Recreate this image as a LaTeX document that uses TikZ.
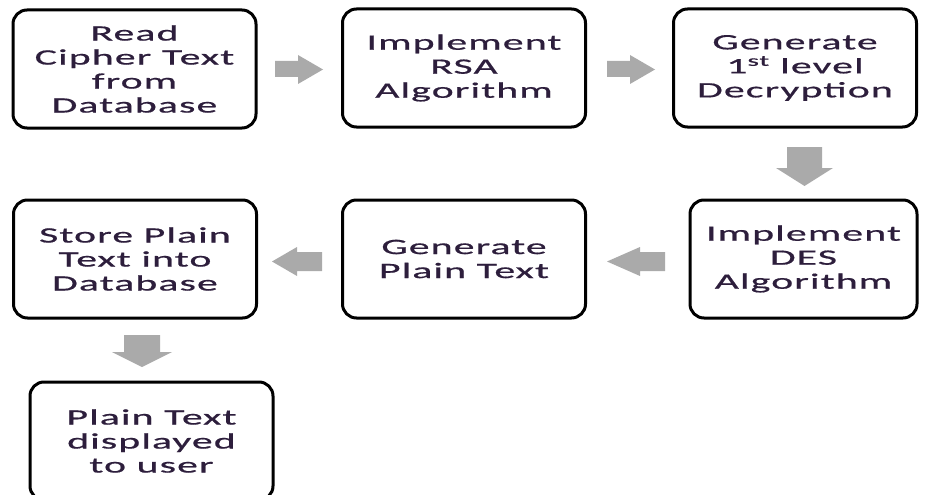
\documentclass[tikz,border=0pt]{standalone}
\usepackage{fontspec}
\newfontfamily\boxfont[FakeStretch=1.9,LetterSpace=5,FakeBold=0.7]{Carlito}
\definecolor{txt}{RGB}{45,30,60}
\definecolor{arr}{RGB}{170,170,170}
\tikzset{
  box/.style={draw=black, line width=3pt, rounded corners=14pt, fill=white,
    minimum width=243pt, minimum height=118pt, inner sep=0pt,
    align=center, text=txt, font=\boxfont\fontsize{22}{24}\selectfont},
  fat/.style={draw=none, fill=arr}
}
\begin{document}
\begin{tikzpicture}[x=1pt,y=-1pt]
\useasboundingbox (0,0) rectangle (927,495);
\node[box] (b1) at (134.5,69) {Read\\Cipher Text\\from\\Database};
\node[box] (b2) at (464,68) {Implement\\RSA\\Algorithm};
\node[box] (b3) at (795,68) {Generate\\1\textsuperscript{st} level\\Decryption};
\node[box,minimum width=227pt] (b6) at (803.5,259) {Implement\\DES\\Algorithm};
\node[box] (b5) at (464,259) {Generate\\Plain Text};
\node[box] (b4) at (135,259) {Store Plain\\Text into\\Database};
\node[box] (b7) at (151.5,441) {Plain Text\\displayed\\to user};
% block arrows
\fill[fat] (275,61) -- (298,61) -- (298,55) -- (323,69.5) -- (298,84) -- (298,77) -- (275,77) -- cycle;
\fill[fat] (607,61) -- (630,61) -- (630,55) -- (655,69.5) -- (630,84) -- (630,77) -- (607,77) -- cycle;
\fill[fat] (787,147) -- (822,147) -- (822,168) -- (833,168) -- (804.5,186) -- (776,168) -- (787,168) -- cycle;
\fill[fat] (665,252) -- (640,252) -- (640,247) -- (607,261.5) -- (640,276) -- (640,271) -- (665,271) -- cycle;
\fill[fat] (322,252) -- (297,252) -- (297,247) -- (272,261.5) -- (297,276) -- (297,271) -- (322,271) -- cycle;
\fill[fat] (124,335) -- (160,335) -- (160,352) -- (172,352) -- (142,367) -- (112,352) -- (124,352) -- cycle;
\end{tikzpicture}
\end{document}
